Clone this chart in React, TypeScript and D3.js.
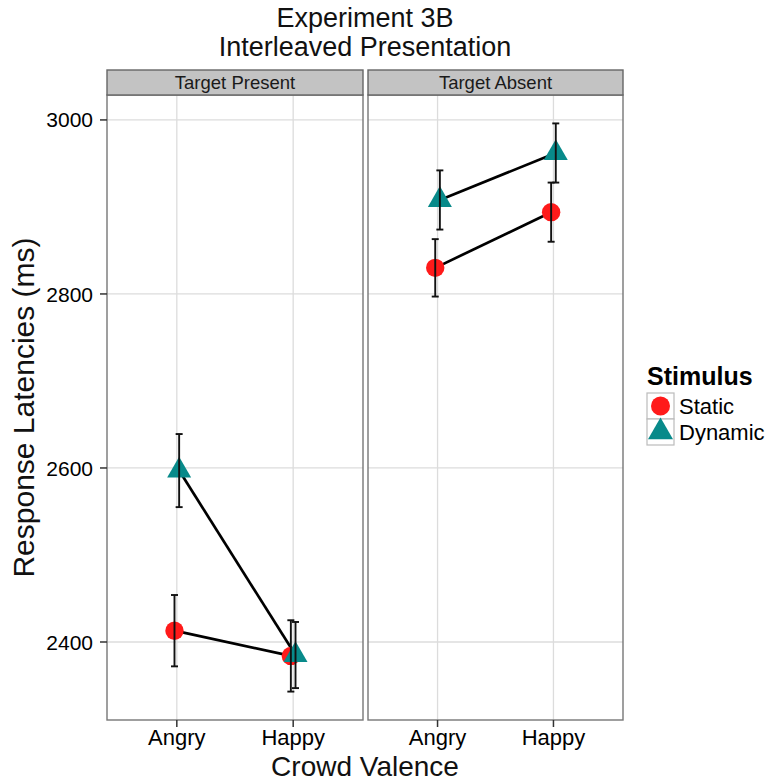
import * as d3 from "d3";

const valences = ["Angry", "Happy"];
const stimuli = ["Static", "Dynamic"];
const panelNames = ["Target Present", "Target Absent"];
const yTicks = [2400, 2600, 2800, 3000];

// means and error bar half-widths (ms)
const presentStatic = [2413, 2384];
const presentDynamic = [2597, 2385];
const absentStatic = [2830, 2894];
const absentDynamic = [2908, 2962];
const presentStaticErr = [41, 41];
const presentDynamicErr = [42, 38];
const absentStaticErr = [33, 34];
const absentDynamicErr = [34, 34];

const colors = { Static: "#ff1a1a", Dynamic: "#088a8a" };
const font = "'Liberation Sans', Arial, sans-serif";

const W = 767;
const H = 784;
const panelX = [
  [107, 363],
  [368, 623],
];
const top = 95;
const bottom = 720;
const stripTop = 70;
const dodge = 0.02;

const panels = [
  {
    name: panelNames[0],
    series: [
      { key: "Static", mean: presentStatic, err: presentStaticErr },
      { key: "Dynamic", mean: presentDynamic, err: presentDynamicErr },
    ],
  },
  {
    name: panelNames[1],
    series: [
      { key: "Static", mean: absentStatic, err: absentStaticErr },
      { key: "Dynamic", mean: absentDynamic, err: absentDynamicErr },
    ],
  },
];

const allLo = panels.flatMap((p) => p.series.flatMap((s) => s.mean.map((m, i) => m - s.err[i])));
const allHi = panels.flatMap((p) => p.series.flatMap((s) => s.mean.map((m, i) => m + s.err[i])));
const lo = d3.min(allLo)!;
const hi = d3.max(allHi)!;
const pad = (hi - lo) * 0.05;

const y = d3.scaleLinear().domain([lo - pad, hi + pad]).range([bottom, top]);

function triangle(cx: number, cy: number, s: number) {
  const h1 = s / Math.sqrt(3);
  const h2 = s / (2 * Math.sqrt(3));
  return `M${cx},${cy - h1}L${cx + s / 2},${cy + h2}L${cx - s / 2},${cy + h2}Z`;
}

function Marker({ kind, cx, cy, big }: { kind: string; cx: number; cy: number; big?: boolean }) {
  if (kind === "Static") {
    return <circle cx={cx} cy={cy} r={big ? 9.5 : 9.2} fill={colors.Static} />;
  }
  return <path d={triangle(cx, cy, big ? 25 : 24)} fill={colors.Dynamic} />;
}

function Panel({ index }: { index: number }) {
  const p = panels[index];
  const [x0, x1] = panelX[index];
  const x = d3.scaleLinear().domain([0.4, valences.length + 0.6]).range([x0, x1]);

  return (
    <g>
      <rect x={x0} y={top} width={x1 - x0} height={bottom - top} fill="#fff" />
      {yTicks.map((t) => (
        <line key={t} x1={x0} x2={x1} y1={y(t)} y2={y(t)} stroke="#dcdcdc" strokeWidth={1.3} />
      ))}
      {valences.map((v, i) => (
        <line key={v} x1={x(i + 1)} x2={x(i + 1)} y1={top} y2={bottom} stroke="#dcdcdc" strokeWidth={1.3} />
      ))}
      {p.series.map((s, k) => {
        const off = k === 0 ? -dodge : dodge;
        const lx = d3
          .line<number>()
          .x((_, i) => x(i + 1 + off))
          .y((d) => y(d));
        return <path key={s.key} d={lx(s.mean) ?? ""} fill="none" stroke="#000" strokeWidth={2.7} />;
      })}
      {p.series.map((s, k) => {
        const off = k === 0 ? -dodge : dodge;
        return s.mean.map((m, i) => (
          <Marker key={s.key + i} kind={s.key} cx={x(i + 1 + off)} cy={y(m)} />
        ));
      })}
      {p.series.map((s, k) => {
        const off = k === 0 ? -dodge : dodge;
        return s.mean.map((m, i) => {
          const cx = x(i + 1 + off);
          const ya = y(m + s.err[i]);
          const yb = y(m - s.err[i]);
          return (
            <g key={s.key + "e" + i} stroke="#111" strokeWidth={1.9}>
              <line x1={cx} x2={cx} y1={ya} y2={yb} />
              <line x1={cx - 3.5} x2={cx + 3.5} y1={ya} y2={ya} />
              <line x1={cx - 3.5} x2={cx + 3.5} y1={yb} y2={yb} />
            </g>
          );
        });
      })}
      <rect x={x0} y={top} width={x1 - x0} height={bottom - top} fill="none" stroke="#777" strokeWidth={1.4} />
      <rect x={x0} y={stripTop} width={x1 - x0} height={top - stripTop} fill="#c3c3c3" stroke="#666" strokeWidth={1.4} />
      <text
        x={(x0 + x1) / 2}
        y={(stripTop + top) / 2}
        dy="0.36em"
        textAnchor="middle"
        fontSize={18.5}
        fill="#1a1a1a"
        fontFamily={font}
      >
        {p.name}
      </text>
      {valences.map((v, i) => (
        <g key={v}>
          <line x1={x(i + 1)} x2={x(i + 1)} y1={bottom} y2={bottom + 7} stroke="#333" strokeWidth={1.5} />
          <text x={x(i + 1)} y={745} textAnchor="middle" fontSize={22} fill="#000" fontFamily={font}>
            {v}
          </text>
        </g>
      ))}
    </g>
  );
}

export default function App() {
  return (
    <svg
      width={W}
      height={H}
      viewBox={`0 0 ${W} ${H}`}
      style={{ position: "absolute", left: 0, top: 0, background: "#fff" }}
      fontFamily={font}
    >
      <rect width={W} height={H} fill="#fff" />
      <text x={365} y={27} textAnchor="middle" fontSize={27} fill="#111">
        Experiment 3B
      </text>
      <text x={365} y={56} textAnchor="middle" fontSize={27} fill="#111">
        Interleaved Presentation
      </text>
      {panels.map((_, i) => (
        <Panel key={i} index={i} />
      ))}
      {yTicks.map((t) => (
        <g key={t}>
          <line x1={100} x2={107} y1={y(t)} y2={y(t)} stroke="#333" strokeWidth={1.5} />
          <text x={93} y={y(t)} dy="0.36em" textAnchor="end" fontSize={21} fill="#000">
            {t}
          </text>
        </g>
      ))}
      <text
        transform={`translate(34,${(top + bottom) / 2}) rotate(-90)`}
        textAnchor="middle"
        fontSize={30}
        fill="#111"
      >
        Response Latencies (ms)
      </text>
      <text x={365} y={776} textAnchor="middle" fontSize={28} fill="#111">
        Crowd Valence
      </text>
      <g>
        <text x={647} y={385} fontSize={25} fontWeight="bold" fill="#000">
          Stimulus
        </text>
        {stimuli.map((s, i) => {
          const ry = 393 + i * 26;
          return (
            <g key={s}>
              <rect x={647} y={ry} width={27} height={26} fill="#fff" stroke="#bbb" strokeWidth={1.2} />
              <Marker kind={s} cx={660.5} cy={ry + 13} big />
              <text x={679} y={ry + 13} dy="0.36em" fontSize={22} fill="#000">
                {s}
              </text>
            </g>
          );
        })}
      </g>
    </svg>
  );
}
